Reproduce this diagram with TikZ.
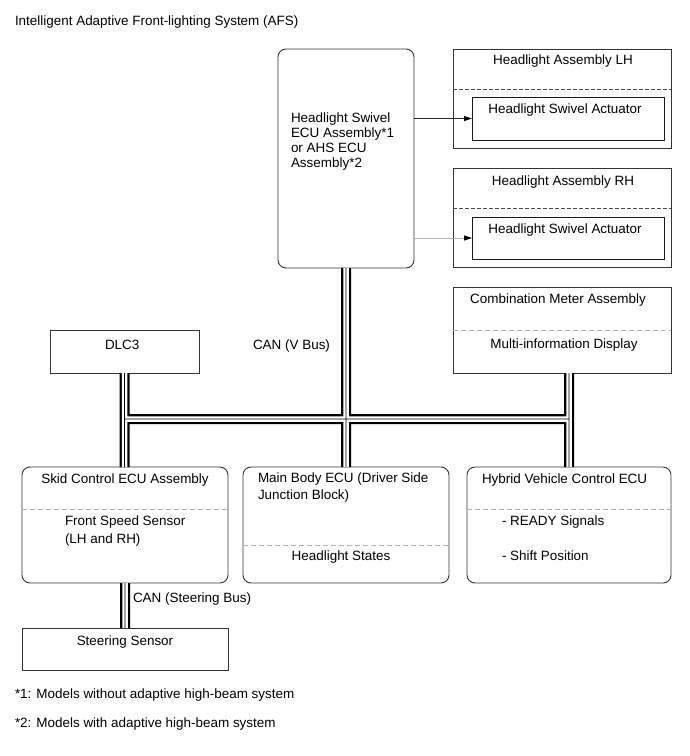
\documentclass[tikz,border=0pt]{standalone}
\usepackage{fontspec}
\setmainfont{Liberation Sans}
\usetikzlibrary{arrows.meta}
\begin{document}
\begin{tikzpicture}[x=1bp,y=-1bp,
  box/.style={draw=black!80, line width=0.9bp, fill=white, inner sep=0pt, outer sep=0pt, anchor=north west},
  rbox/.style={box, rounded corners=8bp},
  actbox/.style={box, draw=black!90, line width=0.9bp},
  lbl/.style={inner sep=0pt, outer sep=0pt, font=\fontsize{13.5}{15.3}\selectfont},
  hdash/.style={draw=black!70, line width=0.6bp, dash pattern=on 4bp off 2bp},
  ldash/.style={draw=black!30, line width=1bp, dash pattern=on 5bp off 3bp},
  arr/.style={line width=0.8bp, -{Triangle[length=8bp,width=5bp,color=black]}},
  busout/.style={line width=2.25bp, double=white, double distance=5.5bp},
  buscore/.style={line width=0.9bp}
]
\useasboundingbox (0,0) rectangle (690,756);

% title
\node[lbl, anchor=base west] (title) at (15,26) {Intelligent Adaptive Front-lighting System (AFS)};

% headlight swivel ECU
\node[rbox, minimum width=136bp, minimum height=219bp] (hsw) at (278,49) {};
\node[lbl, anchor=north west, align=left] (hswt) at (291,112.5) {Headlight Swivel\\ECU Assembly*1\\or AHS ECU\\Assembly*2};

% headlight LH
\node[box, minimum width=218bp, minimum height=99bp] (hlh) at (453,49) {};
\draw[hdash] ([yshift=-40bp]hlh.north west) -- ([yshift=-40bp]hlh.north east);
\node[actbox, minimum width=192bp, minimum height=43bp] (hlhact) at (472,97) {};
\node[lbl, anchor=base] (hlht) at (563,65) {Headlight Assembly LH};
\node[lbl, anchor=base] (hlhat) at (565,113) {Headlight Swivel Actuator};

% headlight RH
\node[box, minimum width=218bp, minimum height=99bp] (hrh) at (453,168) {};
\draw[hdash] ([yshift=-40bp]hrh.north west) -- ([yshift=-40bp]hrh.north east);
\node[actbox, minimum width=192bp, minimum height=42bp] (hrhact) at (472,217) {};
\node[lbl, anchor=base] (hrht) at (563,185) {Headlight Assembly RH};
\node[lbl, anchor=base] (hrhat) at (565,233) {Headlight Swivel Actuator};

% arrows
\draw[arr, draw=black!85] (hsw.east |- hlhact.west) -- (hlhact.west);
\draw[arr, draw=black!30] (hsw.east |- hrhact.west) -- (hrhact.west);

% combination meter
\node[box, minimum width=218bp, minimum height=86bp] (comb) at (453,287) {};
\draw[ldash] ([yshift=-43bp]comb.north west) -- ([yshift=-43bp]comb.north east);
\node[lbl, anchor=base] (combt) at (558,303) {Combination Meter Assembly};
\node[lbl, anchor=base] (combs) at (564,348) {Multi-information Display};

% DLC3
\node[box, minimum width=149bp, minimum height=43bp] (dlc) at (50,330) {};
\node[lbl, anchor=base west] (dlct) at (105,349) {DLC3};
\node[lbl, anchor=base west] (canv) at (253,349) {CAN (V Bus)};

% skid control
\node[rbox, minimum width=206bp, minimum height=116bp] (skid) at (22,467) {};
\draw[ldash] ([yshift=-42bp]skid.north west) -- ([yshift=-42bp]skid.north east);
\node[lbl, anchor=base] (skidt) at (125,483) {Skid Control ECU Assembly};
\node[lbl, anchor=base west] (skids1) at (65,525) {Front Speed Sensor};
\node[lbl, anchor=base west] (skids2) at (65,543) {(LH and RH)};

% main body
\node[rbox, minimum width=206bp, minimum height=116bp] (mbody) at (243,467) {};
\draw[ldash] ([yshift=-78bp]mbody.north west) -- ([yshift=-78bp]mbody.north east);
\node[lbl, anchor=base west] (mbodyt1) at (258,482) {Main Body ECU (Driver Side};
\node[lbl, anchor=base west] (mbodyt2) at (258,499) {Junction Block)};
\node[lbl, anchor=base] (mbodys) at (341,560) {Headlight States};

% hybrid
\node[rbox, minimum width=204bp, minimum height=116bp] (hyb) at (467,467) {};
\draw[ldash] ([yshift=-42bp]hyb.north west) -- ([yshift=-42bp]hyb.north east);
\node[lbl, anchor=base west] (hybt) at (482,483) {Hybrid Vehicle Control ECU};
\node[lbl, anchor=base west] (hybs1) at (502,525) {- READY Signals};
\node[lbl, anchor=base west] (hybs2) at (502,560) {- Shift Position};

% steering sensor
\node[box, minimum width=206bp, minimum height=42bp] (steer) at (22,628) {};
\node[lbl, anchor=base] (steert) at (125,645) {Steering Sensor};
\node[lbl, anchor=base west] (cans) at (133,602) {CAN (Steering Bus)};

% buses
\coordinate (busy) at (0,419);
\draw[busout] (dlc.south) -- (dlc.south |- skid.north)
  (hsw.south) -- (mbody.north)
  (comb.south -| hyb.north) -- (hyb.north)
  (dlc.south |- busy) -- (hyb.north |- busy)
  (skid.south) -- (steer.north);
\draw[buscore] (dlc.south) -- (dlc.south |- skid.north)
  (hsw.south) -- (mbody.north)
  (comb.south -| hyb.north) -- (hyb.north)
  (dlc.south |- busy) -- (hyb.north |- busy)
  (skid.south) -- (steer.north);

% footnotes
\node[lbl, anchor=base west] (fn1) at (15,698) {*1: Models without adaptive high-beam system};
\node[lbl, anchor=base west] (fn2) at (15,727) {*2: Models with adaptive high-beam system};
\end{tikzpicture}
\end{document}
